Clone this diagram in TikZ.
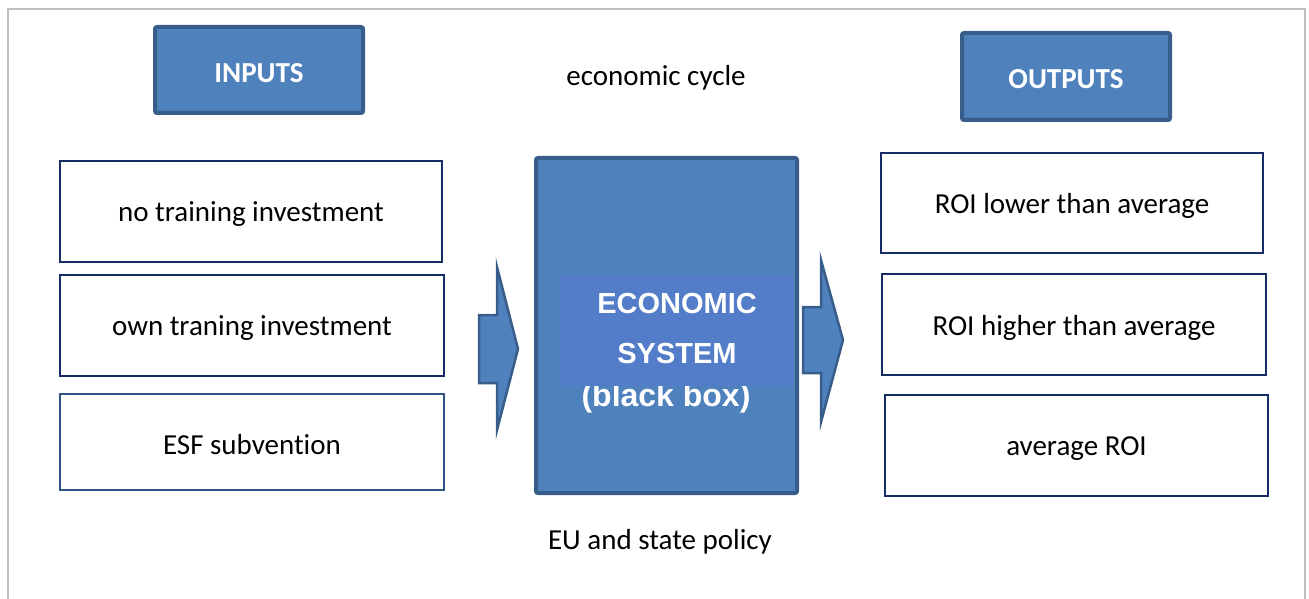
\documentclass[tikz,border=0pt]{standalone}
\usepackage{fontspec}
\setmainfont{Carlito}[Ligatures={NoCommon}]
\newfontfamily\arialfont{Liberation Sans}
\definecolor{boxfill}{HTML}{4F81BD}
\definecolor{boxedge}{HTML}{385D8A}
\definecolor{innerfill}{RGB}{83,125,200}
\definecolor{navy}{RGB}{22,44,100}
\definecolor{framegray}{RGB}{191,191,191}
\newcommand\lowertxt[1]{\raisebox{-3pt}[\height][\depth]{#1}}
\begin{document}
\begin{tikzpicture}[x=1pt,y=-1pt,
  txt/.style={font=\fontsize{29}{35}\selectfont, text=black, inner sep=0pt},
  itembox/.style={draw=navy, line width=2pt, fill=white, inner sep=0pt, font=\fontsize{29}{35}\selectfont},
  headbox/.style={draw=boxedge, line width=4pt, fill=boxfill, rounded corners=2pt, inner sep=0pt, text=white, font=\fontsize{29}{35}\selectfont\bfseries},
  bigbox/.style={draw=boxedge, line width=4pt, fill=boxfill, rounded corners=2pt, inner sep=0pt},
  systxt/.style={font=\arialfont\fontsize{29}{35}\selectfont\bfseries, text=white, inner sep=0pt},
  blockarrow/.style={draw=boxedge, line width=2.5pt, fill=boxfill, line join=miter}
]
\useasboundingbox (0,0) rectangle (1309,599);
% frame
\draw[framegray, line width=2pt] (8,600) -- (8,9) -- (1305,9) -- (1305,600);

% headers
\node[headbox, minimum width=208, minimum height=86] (inputs) at (259,70) {\lowertxt{INPUTS}};
\node[headbox, minimum width=208, minimum height=87] (outputs) at (1066,76.5) {\lowertxt{OUTPUTS}};
\node[txt] (cycle) at (656,78) {economic cycle};
\node[txt] (policy) at (660,542) {EU and state policy};

% input boxes
\node[itembox, minimum width=382, minimum height=101] (in1) at (251,211.5) {\lowertxt{no training investment}};
\node[itembox, minimum width=384, minimum height=101] (in2) at (252,325.5) {\lowertxt{own traning investment}};
\node[itembox, draw=boxedge!80!navy, minimum width=384, minimum height=96] (in3) at (252,442) {\lowertxt{ESF subvention}};

% output boxes
\node[itembox, minimum width=382, minimum height=100] (out1) at (1072,203) {\lowertxt{ROI lower than average}};
\node[itembox, minimum width=384, minimum height=101] (out2) at (1074,324.5) {\lowertxt{ROI higher than average}};
\node[itembox, minimum width=383, minimum height=101] (out3) at (1076.5,445.5) {\lowertxt{average ROI}};

% central system
\node[bigbox, minimum width=261, minimum height=335] (sys) at (666.5,325.5) {};
\node[systxt, anchor=base, font=\arialfont\fontsize{32}{38}\selectfont\bfseries] (bb) at (666,406) {(black box)};
\node[fill=innerfill, minimum width=233, minimum height=110, inner sep=0pt] (inner) at (676.5,331) {};
\node[systxt, anchor=base] (eco) at (677,313) {ECONOMIC};
\node[systxt, anchor=base] (systm) at (677,363) {SYSTEM};

% block arrows
\draw[blockarrow] (479,315) -- (497,315) -- (497,267) -- (518,349) -- (497,430) -- (497,383) -- (479,383) -- cycle;
\draw[blockarrow] (803,307) -- (821,307) -- (821,260) -- (843,340) -- (821,422) -- (821,373) -- (803,373) -- cycle;
\end{tikzpicture}
\end{document}
